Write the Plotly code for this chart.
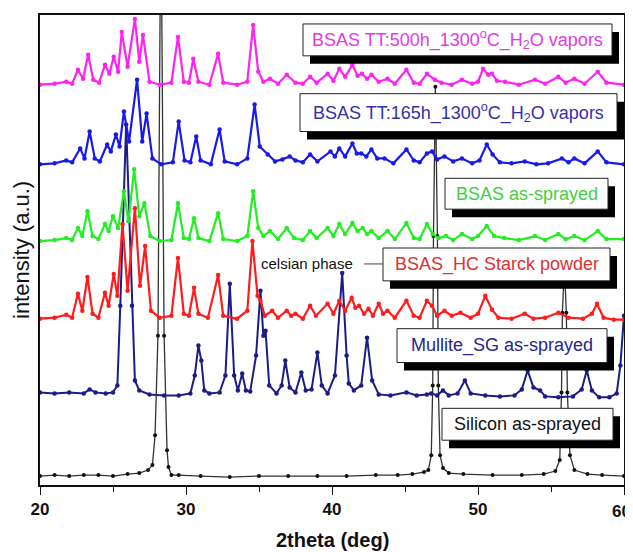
import plotly.graph_objects as go

# ---------------- data (intensity in arbitrary units, offset stacked) -------------
si_x = [20, 21, 22, 23, 24, 25, 26, 26.8, 27.4, 27.7, 27.88, 28.08, 28.28, 28.5, 28.7, 28.8, 29.0, 29.5,
        31, 33, 35, 37, 39, 41, 43, 44.5, 45.5, 46.3, 46.6, 46.8, 46.9, 46.95, 47.08, 47.22, 47.28, 47.4,
        47.6, 48.0, 49, 51, 53, 54.5, 55.3, 55.6, 55.72, 55.78, 55.92, 56.05, 56.12, 56.3, 56.6, 57.5, 58.5, 60]
si_y = [9, 10, 9, 10, 10, 9, 11, 12, 15, 20, 50, 150, 600, 150, 35, 18, 10, 10,
        9, 8, 9, 9, 9, 9, 10, 10, 11, 13, 15, 30, 100, 250, 400, 250, 100, 30,
        17, 12, 11, 10, 10, 11, 14, 25, 93, 173, 220, 173, 93, 30, 15, 11, 10, 9]

mul_x = [20, 21, 22, 23, 23.4, 23.8, 24.5, 25.0, 25.3, 25.5, 25.9, 26.3, 26.5, 26.8, 27.5, 28.5, 29.5,
         30.3, 30.6, 30.85, 31.05, 31.25, 31.6, 32.3, 32.7, 33.0, 33.3, 33.55, 33.85, 34.1, 34.4, 34.8,
         35.1, 35.3, 35.45, 35.7, 36.2, 36.55, 36.8, 37.1, 37.5, 37.9, 38.2, 38.6, 39.0, 39.3, 39.7, 40.2,
         40.7, 41.0, 41.15, 41.5, 42.0, 42.4, 42.75, 43.2, 44, 45.1, 45.8, 46.5, 46.8, 47.2, 47.6, 48.0,
         48.6, 49.1, 49.5, 50.5, 51.5, 52.5, 53.0, 53.4, 53.8, 54.25, 54.6, 55.5, 56.5, 57.1, 57.45, 57.8,
         58.3, 59.0, 59.5, 59.75, 60]
mul_y = [93, 92, 93, 92, 96, 93, 92, 93, 100, 180, 362, 180, 105, 95, 91, 90, 90,
         92, 110, 140, 125, 95, 92, 93, 110, 202, 110, 95, 112, 95, 94, 130,
         195, 150, 155, 100, 92, 100, 125, 98, 93, 113, 95, 96, 133, 100, 92, 110,
         213, 130, 102, 95, 100, 148, 105, 91, 90, 93, 90, 91, 92, 90, 95, 90,
         92, 105, 92, 90, 89, 90, 96, 115, 98, 95, 89, 88, 89, 96, 115, 95,
         88, 88, 92, 120, 170]

hc_x = [20, 21, 21.8, 22.2, 22.6, 22.9, 23.25, 23.6, 24.0, 24.45, 24.7, 25.05, 25.3, 25.65, 26.0, 26.5,
        26.85, 27.2, 27.6, 28.2, 29.0, 29.45, 29.85, 30.2, 30.55, 30.85, 31.5, 32.2, 32.55, 33.5, 34.2,
        34.55, 34.9, 35.1, 35.4, 35.9, 36.3, 36.9, 37.2, 37.5, 38.0, 38.5, 38.9, 39.7, 40.1, 40.5, 40.9,
        41.35, 41.6, 41.85, 42.2, 42.5, 42.8, 43.2, 43.5, 43.8, 44.3, 45.1, 45.6, 46.0, 46.5, 46.85, 47.2,
        47.7, 48.2, 48.8, 49.5, 50.0, 50.5, 50.96, 51.4, 52.3, 53.2, 53.8, 54.6, 55.5, 56.2, 57.2, 57.8,
        58.15, 58.6, 59.3, 60]
hc_y = [167, 168, 171, 168, 192, 175, 209, 172, 168, 193, 180, 212, 190, 262, 195, 278,
        200, 240, 175, 168, 170, 228, 172, 170, 198, 172, 168, 211, 170, 167, 175,
        245, 190, 185, 170, 175, 168, 175, 170, 172, 167, 180, 170, 182, 172, 185, 175,
        188, 178, 180, 172, 177, 170, 182, 172, 175, 168, 185, 170, 168, 185, 180, 170,
        175, 170, 173, 168, 172, 190, 176, 168, 167, 172, 167, 168, 173, 168, 167, 172,
        182, 168, 166, 166]

asp_x = [20, 21, 21.8, 22.2, 22.6, 22.9, 23.25, 23.6, 24.0, 24.45, 24.7, 25.0, 25.35, 25.75, 26.05,
         26.45, 26.8, 27.15, 27.55, 28.2, 29.0, 29.45, 29.85, 30.2, 30.55, 30.85, 31.6, 32.2, 32.55,
         33.5, 34.2, 34.6, 34.95, 35.3, 35.75, 36.3, 36.9, 37.4, 38.0, 38.5, 38.95, 39.7, 40.1, 40.5,
         40.9, 41.4, 41.75, 42.1, 42.4, 42.7, 43.2, 43.8, 44.3, 45.1, 45.6, 46.0, 46.5, 46.9, 47.3,
         47.8, 48.3, 48.9, 49.6, 50.0, 50.6, 51.1, 51.8, 52.8, 53.9, 54.6, 55.5, 56.0, 56.6, 57.3,
         58.2, 58.8, 60]
asp_y = [245, 246, 248, 246, 258, 250, 275, 250, 247, 262, 255, 270, 258, 295, 265,
         317, 270, 283, 250, 245, 246, 283, 248, 247, 268, 248, 245, 273, 247,
         245, 250, 295, 258, 250, 255, 247, 258, 248, 246, 255, 248, 258, 250, 262,
         252, 263, 255, 258, 252, 255, 248, 255, 247, 263, 248, 247, 262, 252, 248,
         250, 246, 252, 247, 250, 260, 250, 248, 246, 250, 246, 252, 247, 250, 246,
         255, 247, 247]

t165_x = [20, 21, 21.8, 22.2, 22.75, 23.05, 23.4, 23.75, 24.1, 24.6, 24.85, 25.2, 25.45, 25.75, 26.1,
          26.65, 27.0, 27.3, 27.7, 28.3, 29.1, 29.5, 29.9, 30.3, 30.7, 31.0, 31.7, 32.3, 32.65, 33.5,
          34.2, 34.7, 35.05, 35.6, 36.1, 36.6, 37.1, 37.5, 38.0, 38.5, 39.0, 39.9, 40.2, 40.5, 40.9,
          41.4, 41.7, 42.0, 42.35, 42.7, 43.1, 43.6, 44.2, 45.1, 45.6, 46.0, 46.5, 46.85, 47.2, 47.7,
          48.3, 48.9, 49.6, 50.1, 50.6, 51.0, 51.5, 52.3, 53.2, 54.0, 54.8, 55.75, 56.2, 56.6, 57.3,
          58.2, 58.8, 60]
t165_y = [322, 323, 326, 324, 338, 328, 355, 328, 325, 342, 335, 352, 340, 375, 345,
          407, 345, 373, 328, 322, 324, 365, 326, 324, 350, 326, 322, 357, 325, 322,
          328, 382, 340, 332, 325, 327, 330, 326, 324, 332, 325, 335, 330, 338, 330,
          343, 333, 333, 330, 337, 328, 328, 323, 337, 326, 324, 333, 335, 327, 330,
          325, 328, 323, 326, 342, 332, 324, 323, 325, 322, 323, 328, 324, 328, 323,
          335, 324, 322]

t500_x = [20, 21, 21.8, 22.2, 22.6, 22.95, 23.3, 23.65, 24.05, 24.45, 24.75, 25.05, 25.35, 25.6, 26.0,
          26.5, 26.8, 27.05, 27.5, 28.2, 29.0, 29.45, 29.85, 30.2, 30.5, 30.85, 31.6, 32.2, 32.55, 33.5,
          34.2, 34.6, 34.95, 35.3, 35.75, 36.3, 36.9, 37.5, 38.0, 38.5, 38.95, 39.7, 40.1, 40.5, 40.9,
          41.4, 41.75, 42.05, 42.4, 42.7, 43.2, 43.8, 44.3, 45.1, 45.6, 46.0, 46.5, 47.05, 47.5, 48.2,
          48.9, 49.6, 50.0, 50.35, 50.7, 50.96, 51.3, 51.85, 52.8, 53.9, 54.6, 55.5, 56.0, 56.6, 57.3,
          58.2, 58.8, 60]
t500_y = [402, 403, 405, 403, 417, 408, 432, 407, 404, 422, 413, 430, 415, 455, 420,
          468, 425, 452, 405, 402, 404, 450, 405, 404, 428, 405, 402, 433, 404, 402,
          405, 462, 415, 405, 408, 403, 412, 404, 403, 410, 404, 413, 406, 418, 410,
          422, 411, 413, 408, 412, 405, 408, 403, 417, 404, 403, 413, 407, 404, 402,
          407, 403, 405, 418, 412, 413, 406, 405, 402, 407, 403, 410, 404, 408, 403,
          415, 404, 402]

labels = ["BSAS TT:500h_1300<sup>o</sup>C_H<sub>2</sub>O vapors",
          "BSAS TT:165h_1300<sup>o</sup>C_H<sub>2</sub>O vapors",
          "BSAS as-sprayed",
          "BSAS_HC Starck powder",
          "Mullite_SG as-sprayed",
          "Silicon as-sprayed"]
x_ticks = [20, 30, 40, 50, 60]

# ---------------- figure -------------
W, H = 633, 552            # window size
OFF = 8                    # default page body margin
L, R, T, B = 40, 624, 13, 485   # plot area in window pixels
XMIN, XMAX = 20, 60
YMAX = B - T


def X(px):
    return XMIN + (px - L) * (XMAX - XMIN) / (R - L)


def Y(py):
    return B - py


FONT = "Liberation Sans, Arial, sans-serif"
series = [
    (si_x, si_y, "#111111", "#333333", 1.3, 4),
    (mul_x, mul_y, "#1c1c84", "#1c1c84", 2.0, 4.5),
    (hc_x, hc_y, "#ff1c1c", "#ff1c1c", 2.2, 4.5),
    (asp_x, asp_y, "#22ee22", "#22ee22", 2.2, 4.5),
    (t165_x, t165_y, "#1a1ae8", "#1a1ae8", 2.2, 4.5),
    (t500_x, t500_y, "#ff22f0", "#ff22f0", 2.2, 4.5),
]

fig = go.Figure()
for xs, ys, mc, lc, lw, ms in series:
    fig.add_trace(go.Scatter(x=xs, y=ys, mode="lines+markers",
                             line=dict(color=lc, width=lw),
                             marker=dict(color=mc, size=ms),
                             showlegend=False, hoverinfo="skip", cliponaxis=True))

# shadowed label boxes (window pixel boxes: left, top, right, bottom)
boxes = [
    ((303, 22, 612, 54), "#e03ce0"),
    ((300, 92, 617, 130), "#3232a8"),
    ((445, 177, 608, 208), "#3fcf3f"),
    ((383, 247, 610, 280), "#e03030"),
    ((397, 328, 607, 362), "#26268c"),
    ((442, 408, 613, 440), "#111111"),
]
shapes = []
annotations = []
for (bx0, by0, bx1, by1), tc in boxes:
    shapes.append(dict(type="rect", xref="x", yref="y", x0=X(bx0 + 7), x1=X(bx1 + 7),
                       y0=Y(by0 + 8), y1=Y(by1 + 8), fillcolor="black", line=dict(width=0)))
    shapes.append(dict(type="rect", xref="x", yref="y", x0=X(bx0), x1=X(bx1),
                       y0=Y(by0), y1=Y(by1), fillcolor="white",
                       line=dict(color="#222222", width=1)))
for ((bx0, by0, bx1, by1), tc), txt in zip(boxes, labels):
    annotations.append(dict(x=X((bx0 + bx1) / 2), y=Y((by0 + by1) / 2), xref="x", yref="y",
                            text=txt, showarrow=False, xanchor="center", yanchor="middle",
                            font=dict(family=FONT, size=18, color=tc)))

# celsian phase pointer
annotations.append(dict(x=X(355), y=Y(263), xref="x", yref="y", text="celsian phase",
                        showarrow=False, xanchor="right", yanchor="middle",
                        font=dict(family=FONT, size=15, color="#111111")))
shapes.append(dict(type="line", xref="x", yref="y", x0=X(364), x1=X(383), y0=Y(263), y1=Y(263),
                   line=dict(color="#444444", width=1)))

# last tick label (right-aligned so it stays inside the page, as in the reference)
annotations.append(dict(x=(W - OFF - (L - OFF)) / (R - L), y=-(512 - B) / (B - T), xref="paper",
                        yref="paper", text=f"<b>{x_ticks[-1]}</b>", showarrow=False,
                        xanchor="right", yanchor="middle",
                        font=dict(family=FONT, size=17, color="#111")))

# axis titles
annotations.append(dict(x=-19 / (R - L), y=0.5, xref="paper", yref="paper", text="intensity (a.u.)",
                        textangle=-90, showarrow=False, xanchor="center", yanchor="middle",
                        font=dict(family=FONT, size=22, color="#111111")))
annotations.append(dict(x=0.5, y=-(540 - B) / (B - T), xref="paper", yref="paper", text="<b>2theta (deg)</b>",
                        showarrow=False, xanchor="center", yanchor="middle",
                        font=dict(family=FONT, size=20, color="#111111")))

fig.update_layout(
    width=W - OFF, height=H - OFF,
    margin=dict(l=L - OFF, r=W - R, t=T - OFF, b=H - B, pad=0),
    paper_bgcolor="white", plot_bgcolor="white",
    shapes=shapes, annotations=annotations,
    xaxis=dict(range=[XMIN, XMAX], tickvals=x_ticks,
               ticktext=[f"<b>{v}</b>" for v in x_ticks[:-1]] + [""],
               ticks="outside", ticklen=8, tickwidth=1.2, tickcolor="#111",
               minor=dict(dtick=5, tick0=0, ticks="outside", ticklen=5, tickwidth=1.2, tickcolor="#111"),
               showline=True, linecolor="#111", linewidth=1.5, mirror=True,
               showgrid=False, zeroline=False,
               tickfont=dict(family=FONT, size=17, color="#111")),
    yaxis=dict(range=[0, YMAX], showticklabels=False, ticks="",
               showline=True, linecolor="#111", linewidth=1.5, mirror=True,
               showgrid=False, zeroline=False),
)

fig.write_html("out.html")
